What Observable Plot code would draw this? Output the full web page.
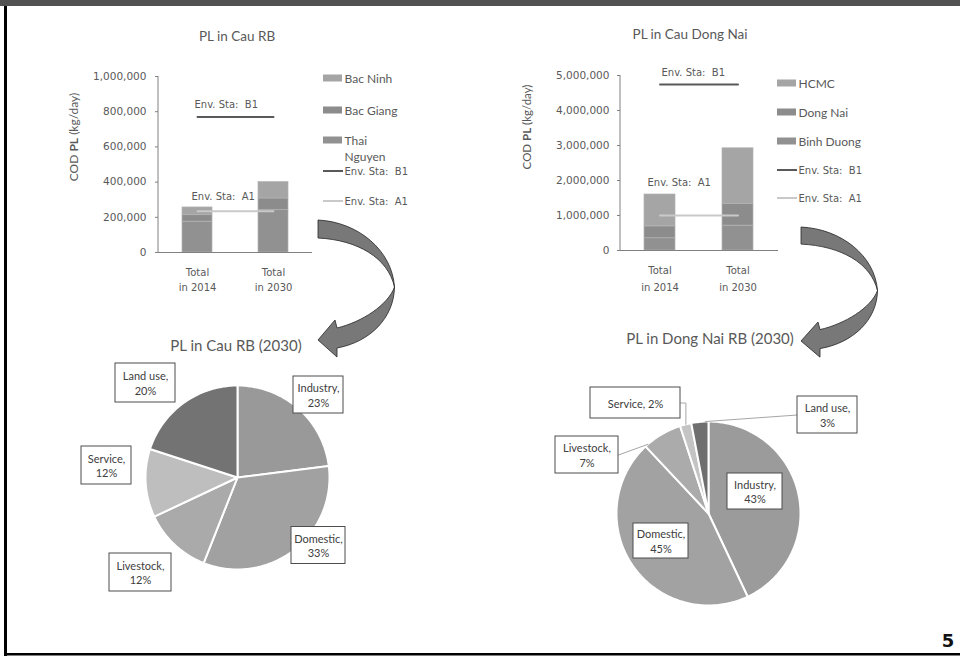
<!DOCTYPE html>
<html>
<head>
<meta charset="utf-8">
<script src="https://cdn.jsdelivr.net/npm/d3@7"></script>
<script src="https://cdn.jsdelivr.net/npm/@observablehq/plot@0.6"></script>
<style>
  html, body { margin: 0; padding: 0; background: #fff; }
  #page { position: relative; width: 960px; height: 657px; overflow: hidden; background: #fff; }
  .abs { position: absolute; }
  .abs svg { display: block; }
</style>
</head>
<body>
<div id="page"></div>
<script>
// ---- Data ---------------------------------------------------------------
const years = ["Total\nin 2014", "Total\nin 2030"];

// Cau river basin, COD pollution load (kg/day), stacked bottom to top
const cauProvinces = ["Thai Nguyen", "Bac Giang", "Bac Ninh"];
const cauLoad2014 = [175000, 37000, 44000];
const cauLoad2030 = [241000, 66000, 93000];
const cauEnvB1 = [770000, 770000];
const cauEnvA1 = [235000, 235000];
const cauTicks = [0, 200000, 400000, 600000, 800000, 1000000];

// Dong Nai river basin, COD pollution load (kg/day), stacked bottom to top
const dnProvinces = ["Binh Duong", "Dong Nai", "HCMC"];
const dnLoad2014 = [350000, 340000, 910000];
const dnLoad2030 = [710000, 620000, 1590000];
const dnEnvB1 = [4740000, 4740000];
const dnEnvA1 = [1000000, 1000000];
const dnTicks = [0, 1000000, 2000000, 3000000, 4000000, 5000000];

// Share of 2030 pollution load by source (%)
const sources = ["Industry", "Domestic", "Livestock", "Service", "Land use"];
const cauShare2030 = [23, 33, 12, 12, 20];
const dnShare2030 = [43, 45, 7, 2, 3];

// ---- Styles -------------------------------------------------------------
const barColors = ["#919191", "#8c8c8c", "#a5a5a5"];
const cauPieColors = ["#999999", "#a1a1a1", "#aaaaaa", "#bebebe", "#737373"];
const dnPieColors = ["#9b9b9b", "#a2a2a2", "#ababab", "#c4c4c4", "#6f6f6f"];
const envB1Color = "#595959";
const envA1Color = "#c9c9c9";
const textColor = "#595959";

const page = d3.select("#page");
function place(node, left, top) {
  const div = page.append("div").attr("class", "abs")
    .style("left", left + "px").style("top", top + "px");
  div.node().appendChild(node);
}

// ---- Stacked bar charts ---------------------------------------------------
function barChart(o) {
  const rows = o.provinces.flatMap((p, i) => [
    {year: years[0], province: p, load: o.load2014[i]},
    {year: years[1], province: p, load: o.load2030[i]}
  ]);
  const b1 = years.map((y, i) => ({year: y, v: o.envB1[i]}));
  const a1 = years.map((y, i) => ({year: y, v: o.envA1[i]}));
  const yAxisLine = (index, scales, values, dim) =>
    d3.create("svg:line")
      .attr("x1", dim.marginLeft).attr("x2", dim.marginLeft)
      .attr("y1", dim.marginTop).attr("y2", dim.height - dim.marginBottom)
      .attr("stroke", "#808080").node();
  const svg = Plot.plot({
    width: o.width, height: o.height,
    marginLeft: o.ml, marginRight: o.mr, marginTop: o.mt, marginBottom: o.mb,
    style: {background: "transparent", overflow: "visible", color: textColor,
            fontFamily: "DejaVu Sans", fontSize: "10.5px"},
    x: {domain: years, paddingInner: 0.6, paddingOuter: 0.31, label: null},
    y: {domain: [0, o.ticks[o.ticks.length - 1]], label: null},
    color: {domain: o.provinces, range: barColors},
    marks: [
      Plot.barY(rows, {x: "year", y: "load", fill: "province", stroke: "#b3b3b3", strokeWidth: 0.7}),
      Plot.ruleY([0], {stroke: "#808080"}),
      yAxisLine,
      Plot.axisY({ticks: o.ticks, tickSize: 3, tickPadding: o.tp, tickFormat: d3.format(","),
                  stroke: "#808080", fill: textColor, fontSize: 10.5, label: null}),
      Plot.axisX({tickSize: 0, tickPadding: o.xtp, fontSize: 10, lineHeight: o.lh,
                  fill: textColor, label: null}),
      Plot.line(b1, {x: "year", y: "v", stroke: envB1Color, strokeWidth: 2}),
      Plot.line(a1, {x: "year", y: "v", stroke: envA1Color, strokeWidth: 2}),
      Plot.text(b1.slice(0, 1), {x: "year", y: "v", text: () => "Env. Sta:\u00a0 B1",
                  textAnchor: "start", dx: o.b1dx, dy: o.b1dy, fontSize: 10, fill: textColor}),
      Plot.text(a1.slice(0, 1), {x: "year", y: "v", text: () => "Env. Sta:\u00a0 A1",
                  textAnchor: "start", dx: o.a1dx, dy: o.a1dy, fontSize: 10, fill: textColor})
    ]
  });
  // y-axis title with the "PL" part in bold
  const t = d3.select(svg).append("text")
    .attr("transform", `translate(${o.titleX},${o.titleY}) rotate(-90)`)
    .attr("text-anchor", "middle").attr("dominant-baseline", "central")
    .attr("fill", textColor).style("font-family", "Lato").style("font-size", o.titleSize + "px");
  t.append("tspan").text("COD ");
  t.append("tspan").attr("font-weight", "bold").text("PL");
  t.append("tspan").text(" (kg/day)");
  return svg;
}

place(barChart({
  provinces: cauProvinces, load2014: cauLoad2014, load2030: cauLoad2030,
  envB1: cauEnvB1, envA1: cauEnvA1, ticks: cauTicks,
  width: 260, height: 240, ml: 103, mr: 3, mt: 21, mb: 43, tp: 9, xtp: 12, lh: 1.55,
  b1dx: -3, b1dy: -12, a1dx: -6, a1dy: -14,
  titleX: 18, titleY: 82, titleSize: 12
}), 55, 55);

place(barChart({
  provinces: dnProvinces, load2014: dnLoad2014, load2030: dnLoad2030,
  envB1: dnEnvB1, envA1: dnEnvA1, ticks: dnTicks,
  width: 270, height: 240, ml: 105, mr: 7, mt: 20, mb: 45, tp: 8, xtp: 11, lh: 1.7,
  b1dx: 1.5, b1dy: -12, a1dx: -12.5, a1dy: -33,
  titleX: 11, titleY: 72, titleSize: 11.5
}), 515, 55);

// ---- Pie charts -----------------------------------------------------------
// label boxes: centre offset from pie centre (px, y up) and box size
const cauLabelLayout = [
  {dx: 81, dy: 82.5, w: 50, h: 37},
  {dx: 81, dy: -68, w: 54, h: 37},
  {dx: -97, dy: -95, w: 62, h: 38},
  {dx: -131, dy: 12, w: 50, h: 38},
  {dx: -92, dy: 94.5, w: 60, h: 39}
];
const dnLabelLayout = [
  {dx: 46.5, dy: 22, w: 55, h: 36},
  {dx: -47.5, dy: -27.5, w: 55, h: 35},
  {dx: -121.5, dy: 58.5, w: 63, h: 37, leader: true},
  {dx: -73, dy: 110.5, w: 90, h: 31, oneLine: true, leader: true, elbow: true},
  {dx: 119, dy: 98.5, w: 60, h: 37, leader: true}
];

function pieChart(shares, colors, layout) {
  const W = 400, H = 300, R = 92;
  const total = d3.sum(shares);
  let acc = 0;
  const slices = sources.map((s, i) => {
    const a0 = acc / total * 2 * Math.PI;
    acc += shares[i];
    return {source: s, share: shares[i], a0, a1: acc / total * 2 * Math.PI};
  });
  const outline = slices.flatMap(sl => {
    const n = Math.max(2, Math.ceil((sl.a1 - sl.a0) / (Math.PI / 180)));
    const pts = [{source: sl.source, x: 0, y: 0}];
    for (let k = 0; k <= n; k++) {
      const a = sl.a0 + (sl.a1 - sl.a0) * k / n;
      pts.push({source: sl.source, x: R * Math.sin(a), y: R * Math.cos(a)});
    }
    return pts;
  });
  const boxes = slices.map((sl, i) => {
    const L = layout[i];
    return {
      source: sl.source,
      label: L.oneLine ? `${sl.source}, ${sl.share}%` : `${sl.source},\n${sl.share}%`,
      cx: L.dx, cy: L.dy,
      x1: L.dx - L.w / 2, x2: L.dx + L.w / 2, y1: L.dy - L.h / 2, y2: L.dy + L.h / 2
    };
  });
  // leader lines run from the box side to the nearest point of the slice edge
  const deg = Math.PI / 180;
  const norm = a => ((a % (2 * Math.PI)) + 2 * Math.PI) % (2 * Math.PI);
  const circDist = (a, b) => { const d = Math.abs(norm(a) - norm(b)); return Math.min(d, 2 * Math.PI - d); };
  const leaders = slices.flatMap((sl, i) => {
    const L = layout[i];
    if (!L.leader) return [];
    const ax = L.dx < 0 ? L.dx + L.w / 2 : L.dx - L.w / 2;
    const ay = L.dy;
    const inset = Math.min(0.3 * (sl.a1 - sl.a0), 2 * deg);
    const lo = sl.a0 + inset, hi = sl.a1 - inset;
    let th = norm(Math.atan2(ax, ay));
    if (!(th >= lo && th <= hi)) th = circDist(th, lo) < circDist(th, hi) ? lo : hi;
    const ex = R * Math.sin(th), ey = R * Math.cos(th);
    const pts = [{source: sl.source, x: ax, y: ay}];
    if (L.elbow) pts.push({source: sl.source, x: ex, y: ay});
    pts.push({source: sl.source, x: ex, y: ey});
    return pts;
  });
  return Plot.plot({
    width: W, height: H, margin: 0,
    style: {background: "transparent", overflow: "visible", fontFamily: "Lato"},
    x: {domain: [-W / 2, W / 2], axis: null},
    y: {domain: [-H / 2, H / 2], axis: null},
    color: {domain: sources, range: colors},
    marks: [
      Plot.line(outline, {x: "x", y: "y", z: "source", fill: "source", stroke: "white",
                          strokeWidth: 2, strokeLinejoin: "round", curve: "linear-closed"}),
      Plot.line(leaders, {x: "x", y: "y", z: "source", stroke: "#a6a6a6", strokeWidth: 1}),
      Plot.rect(boxes, {x1: "x1", x2: "x2", y1: "y1", y2: "y2", fill: "white", stroke: "#4d4d4d", strokeWidth: 1}),
      Plot.text(boxes, {x: "cx", y: "cy", text: "label", fontSize: 11, lineHeight: 1.3, fill: "#404040"})
    ]
  });
}

place(pieChart(cauShare2030, cauPieColors, cauLabelLayout), 237 - 200, 477 - 150);
place(pieChart(dnShare2030, dnPieColors, dnLabelLayout), 708 - 200, 513 - 150);

// ---- Slide frame, titles, legends, arrows --------------------------------
const svg = page.append("svg")
  .attr("class", "abs").style("left", "0px").style("top", "0px")
  .style("pointer-events", "none")
  .attr("width", 960).attr("height", 657);

svg.append("rect").attr("x", 0).attr("y", 0).attr("width", 960).attr("height", 6).attr("fill", "#525252");
svg.append("rect").attr("x", 4).attr("y", 6).attr("width", 3).attr("height", 650).attr("fill", "#000");
svg.append("rect").attr("x", 4).attr("y", 653).attr("width", 956).attr("height", 2.5).attr("fill", "#000");

const titles = [
  {text: "PL in Cau RB", x: 237, y: 36, size: 13.5},
  {text: "PL in Cau Dong Nai", x: 690, y: 34, size: 13.5},
  {text: "PL in Cau RB (2030)", x: 236, y: 345, size: 15},
  {text: "PL in Dong Nai RB (2030)", x: 710, y: 338, size: 15}
];
svg.selectAll("text.title").data(titles).join("text")
  .attr("class", "title")
  .attr("x", d => d.x).attr("y", d => d.y)
  .attr("text-anchor", "middle").attr("dominant-baseline", "central")
  .attr("fill", textColor).style("font-family", "Lato")
  .style("font-size", d => d.size + "px")
  .text(d => d.text);

function legend(x, ys, provinces, wrapChars) {
  const items = provinces.map((p, i) => ({name: p, kind: "bar", color: barColors[i]})).reverse()
    .concat([{name: "Env. Sta:\u00a0 B1", kind: "line", color: envB1Color},
             {name: "Env. Sta:\u00a0 A1", kind: "line", color: envA1Color}]);
  items.forEach((it, i) => {
    const y = ys[i];
    if (it.kind === "bar") {
      svg.append("rect").attr("x", x).attr("y", y - 3.5).attr("width", 19).attr("height", 7).attr("fill", it.color);
    } else {
      svg.append("line").attr("x1", x).attr("x2", x + 20).attr("y1", y).attr("y2", y)
        .attr("stroke", it.color).attr("stroke-width", 2);
    }
    const lines = (it.kind === "bar" && it.name.length > wrapChars) ? it.name.split(" ") : [it.name];
    const t = svg.append("text").attr("x", x + 21.5).attr("y", y)
      .attr("dominant-baseline", "central").attr("fill", textColor)
      .style("font-family", it.kind === "bar" ? "Lato" : "DejaVu Sans")
      .style("font-size", it.kind === "bar" ? "12px" : "10px");
    lines.forEach((ln, k) => t.append("tspan").attr("x", x + 21.5).attr("dy", k ? 16 : 0).text(ln));
  });
}
legend(323, [78, 110, 140, 171, 201], cauProvinces, 9);
legend(777, [83, 112, 141, 170, 198], dnProvinces, 12);

// curved "drill-down" arrows from the bar charts to the pies
function arrowPath(x0, y0, sy) {
  const p = (x, y) => `${x0 + x},${y0 + y * sy}`;
  return `M${p(0, 0)} C${p(40, 2)} ${p(74, 30)} ${p(76.5, 67)} ` +
         `C${p(76, 98)} ${p(52, 122)} ${p(19, 128)} L${p(19, 137)} L${p(0, 120)} ` +
         `L${p(17, 100)} L${p(19, 108)} C${p(44, 102)} ${p(70, 85)} ${p(76.5, 67)} ` +
         `C${p(70, 38)} ${p(40, 20)} ${p(0, 18)} Z`;
}
[[318, 220, 1], [801, 227, 0.95]].forEach(([x0, y0, sy]) => {
  svg.append("path").attr("d", arrowPath(x0, y0, sy))
    .attr("fill", "#787878").attr("stroke", "#262626").attr("stroke-width", 0.8)
    .attr("stroke-linejoin", "round");
});

svg.append("text").attr("x", 948).attr("y", 647).attr("text-anchor", "middle")
  .style("font-family", "DejaVu Sans").style("font-weight", "bold").style("font-size", "18px")
  .attr("fill", "#111").text("5");
</script>
</body>
</html>
